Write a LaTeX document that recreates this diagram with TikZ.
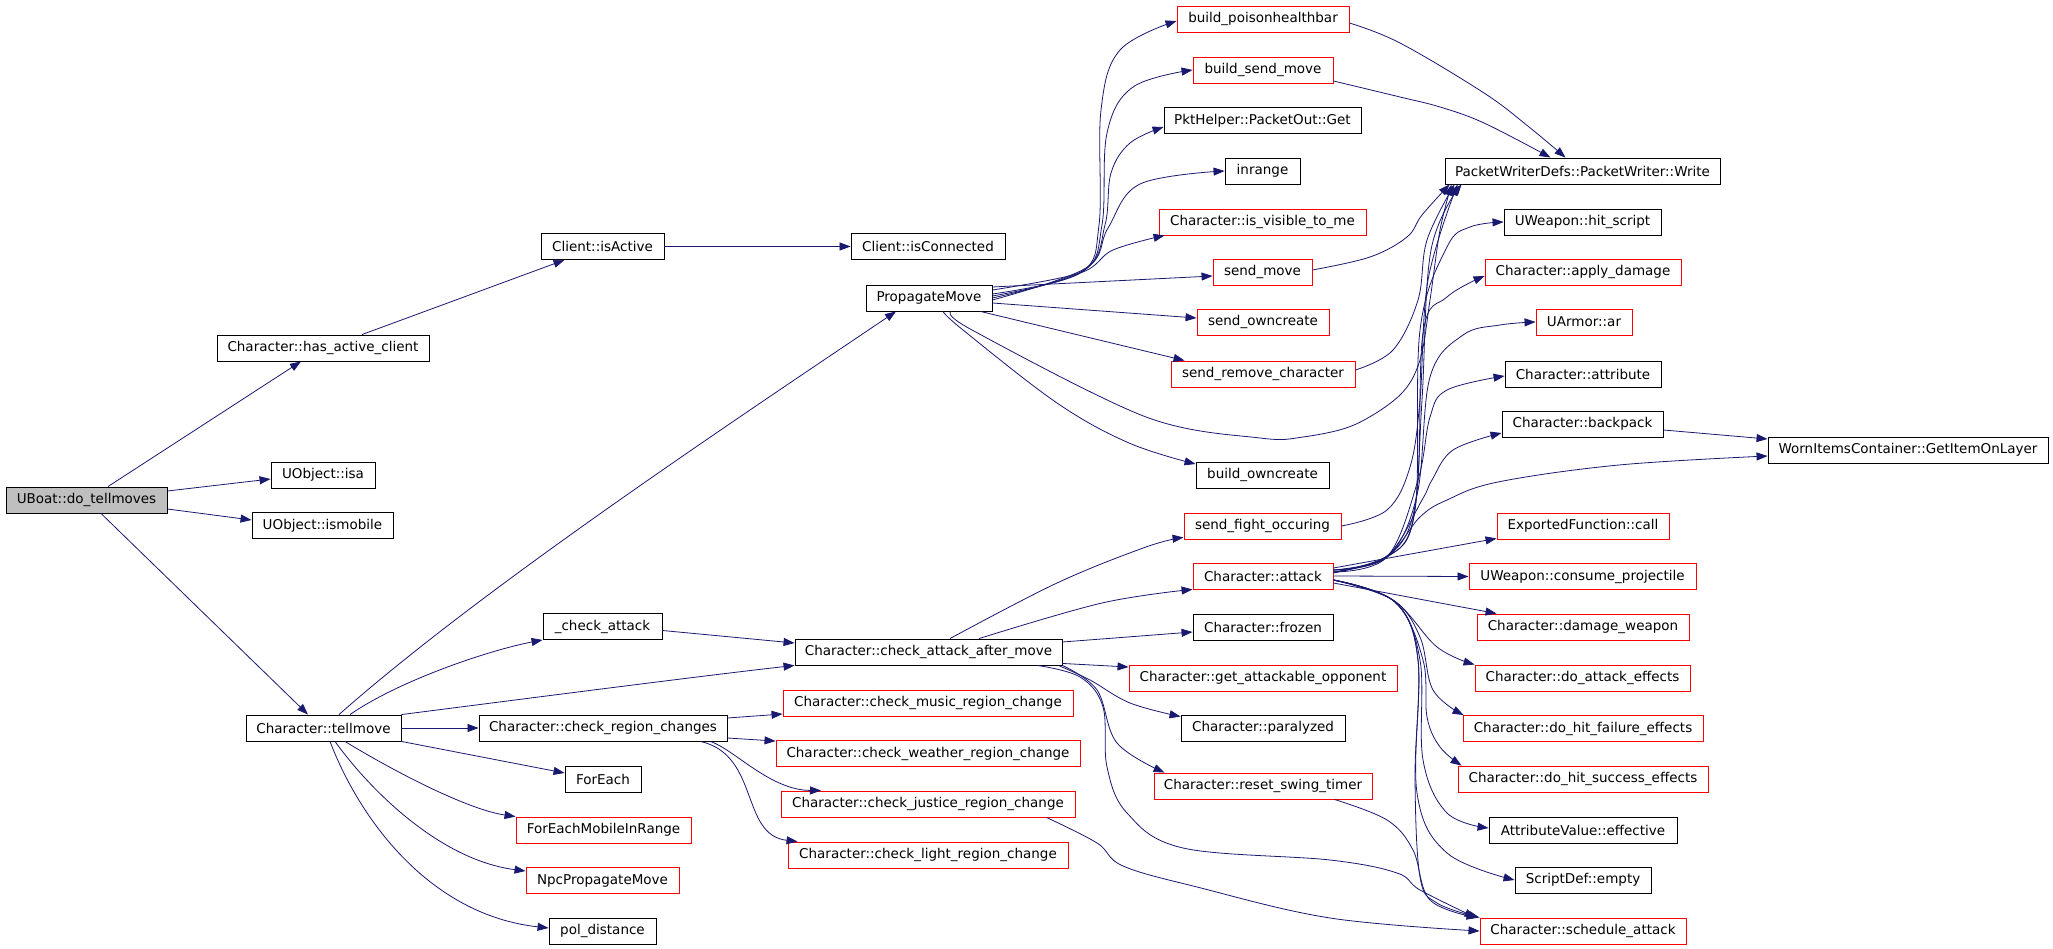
\documentclass[tikz,border=0pt]{standalone}
\usepackage{fontspec}
\setmainfont{DejaVu Sans}
\usetikzlibrary{arrows.meta,calc}
\definecolor{eb}{HTML}{191970}
\definecolor{nodered}{HTML}{FF0000}
\definecolor{rootgray}{HTML}{BFBFBF}
\begin{document}
\begin{tikzpicture}[x=1pt,y=-1pt,
 box/.style={draw=black,line width=0.9pt,rectangle,minimum height=26pt,inner sep=0pt,font=\fontsize{13.5}{15}\selectfont,text=black},
 rbox/.style={box,draw=nodered},
 e/.style={draw=eb,line width=0.8pt,-{Triangle[length=11pt,width=8pt]}},
]
\fill[white] (0,0) rectangle (2053,949);
\useasboundingbox (0,0) rectangle (2053,949);

% column 1-2
\node[box,fill=rootgray,minimum width=161pt] (uboat) at (86.5,500) {UBoat::do\_tellmoves};
\node[box,minimum width=212pt] (hac) at (323,348) {Character::has\_active\_client};
\node[box,minimum width=104pt] (isa) at (323,475) {UObject::isa};
\node[box,minimum width=141pt] (ismobile) at (322.5,525.5) {UObject::ismobile};
\node[box,minimum width=155pt] (tellmove) at (323.5,728) {Character::tellmove};
% column 3
\node[box,minimum width=123pt] (isactive) at (602.5,246.5) {Client::isActive};
\node[box,minimum width=119pt] (chkatk) at (602.5,626.5) {\_check\_attack};
\node[box,minimum width=248pt] (crc) at (603,728) {Character::check\_region\_changes};
\node[box,minimum width=76pt] (foreach) at (603,779) {ForEach};
\node[rbox,minimum width=175pt] (femir) at (603.5,830) {ForEachMobileInRange};
\node[rbox,minimum width=153pt] (npc) at (602.5,880.5) {NpcPropagateMove};
\node[box,minimum width=107pt] (pold) at (602.5,931) {pol\_distance};
% column 4
\node[box,minimum width=154pt] (isconn) at (928,246.5) {Client::isConnected};
\node[box,minimum width=126pt] (propmove) at (929,298) {PropagateMove};
\node[box,minimum width=267pt] (cam) at (928.5,652) {Character::check\_attack\_after\_move};
\node[rbox,minimum width=290pt] (music) at (928,703) {Character::check\_music\_region\_change};
\node[rbox,minimum width=304pt] (weather) at (928,753.5) {Character::check\_weather\_region\_change};
\node[rbox,minimum width=294pt] (justice) at (928,804) {Character::check\_justice\_region\_change};
\node[rbox,minimum width=280pt] (light) at (928,855) {Character::check\_light\_region\_change};
% column 5
\node[rbox,minimum width=172pt] (bph) at (1263,19) {build\_poisonhealthbar};
\node[rbox,minimum width=140pt] (bsm) at (1263,70) {build\_send\_move};
\node[box,minimum width=197pt] (pktget) at (1262.5,120.5) {PktHelper::PacketOut::Get};
\node[box,minimum width=75pt] (inrange) at (1262.5,171) {inrange};
\node[rbox,minimum width=207pt] (isvis) at (1262.5,222) {Character::is\_visible\_to\_me};
\node[rbox,minimum width=99pt] (sendmove) at (1262.5,272) {send\_move};
\node[rbox,minimum width=132pt] (sendown) at (1263,322) {send\_owncreate};
\node[rbox,minimum width=184pt] (sendrem) at (1263,374) {send\_remove\_character};
\node[box,minimum width=133pt] (buildown) at (1262.5,475) {build\_owncreate};
\node[rbox,minimum width=157pt] (sfo) at (1262.5,526) {send\_fight\_occuring};
\node[rbox,minimum width=140pt] (attack) at (1263,576) {Character::attack};
\node[box,minimum width=140pt] (frozen) at (1263,627) {Character::frozen};
\node[rbox,minimum width=268pt] (gao) at (1263,678) {Character::get\_attackable\_opponent};
\node[box,minimum width=164pt] (paralyzed) at (1263,728) {Character::paralyzed};
\node[rbox,minimum width=218pt] (rst) at (1263,786) {Character::reset\_swing\_timer};
% column 6
\node[box,minimum width=275pt] (write) at (1582.5,171) {PacketWriterDefs::PacketWriter::Write};
\node[box,minimum width=157pt] (hitscript) at (1582.5,222) {UWeapon::hit\_script};
\node[rbox,minimum width=196pt] (applydmg) at (1583,272) {Character::apply\_damage};
\node[rbox,minimum width=96pt] (uarmor) at (1584,322) {UArmor::ar};
\node[box,minimum width=156pt] (attribute) at (1583,374) {Character::attribute};
\node[box,minimum width=161pt] (backpack) at (1582.5,424) {Character::backpack};
\node[rbox,minimum width=172pt] (expcall) at (1583,526) {ExportedFunction::call};
\node[rbox,minimum width=227pt] (consume) at (1582.5,576.5) {UWeapon::consume\_projectile};
\node[rbox,minimum width=212pt] (dmgweap) at (1583,627) {Character::damage\_weapon};
\node[rbox,minimum width=215pt] (doatk) at (1582.5,678) {Character::do\_attack\_effects};
\node[rbox,minimum width=240pt] (dofail) at (1583,728.5) {Character::do\_hit\_failure\_effects};
\node[rbox,minimum width=250pt] (dosucc) at (1583,779) {Character::do\_hit\_success\_effects};
\node[box,minimum width=188pt] (effective) at (1583,830) {AttributeValue::effective};
\node[box,minimum width=136pt] (empty) at (1583,880) {ScriptDef::empty};
\node[rbox,minimum width=206pt] (schedule) at (1583,931) {Character::schedule\_attack};
% column 7
\node[box,minimum width=280pt] (getitem) at (1908,450) {WornItemsContainer::GetItemOnLayer};

% ---- edges from UBoat
\draw[e] ($(uboat.north)+(21.5,0)$) -- ($(hac.south)+(-22,0)$);
\draw[e] ($(uboat.east)+(0,-9)$) -- ($(isa.west)+(0,4)$);
\draw[e] ($(uboat.east)+(0,9)$) -- ($(ismobile.west)+(0,-5.5)$);
\draw[e] ($(uboat.south)+(14.5,0)$) -- ($(tellmove.north)+(-15.5,0)$);
\draw[e] ($(hac.north)+(39,0)$) -- ($(isactive.south)+(-38,0)$);
\draw[e] (isactive.east) -- (isconn.west);

% ---- edges from tellmove
\draw[e] ($(tellmove.north)+(15.5,0)$) .. controls (480,590) and (720,430) .. ($(propmove.south)+(-33,0)$);
\draw[e] ($(tellmove.north)+(26.5,0)$) .. controls (400,680) and (490,650) .. (chkatk.south west);
\draw[e] (tellmove.north east) .. controls (500,702) and (700,676) .. (cam.south west);
\draw[e] (tellmove.east) -- (crc.west);
\draw[e] (tellmove.south east) -- ($(foreach.west)+(0,-6)$);
\draw[e] ($(tellmove.south)+(21.5,0)$) .. controls (400,775) and (470,810) .. (femir.north west);
\draw[e] ($(tellmove.south)+(11.5,0)$) .. controls (370,790) and (440,860) .. ($(npc.west)+(0,-9.5)$);
\draw[e] ($(tellmove.south)+(6.5,0)$) .. controls (360,820) and (430,915) .. ($(pold.west)+(0,-3)$);
\draw[e] ($(chkatk.east)+(0,4)$) -- ($(cam.west)+(0,-9)$);

% ---- check_region_changes
\draw[e] ($(crc.east)+(0,-10)$) -- ($(music.west)+(0,11)$);
\draw[e] ($(crc.east)+(0,10)$) -- ($(weather.north west)+(0,1)$);
\draw[e] ($(crc.south east)+(-17,0)$) .. controls (735,750) and (770,790) .. ($(justice.north)+(-107,0)$);
\draw[e] ($(crc.south east)+(-27,0)$) .. controls (760,755) and (740,835) .. ($(light.north west)+(10,0)$);
\draw[e] plot[smooth,tension=0.6] coordinates {($(justice.south east)+(-29,0)$) (1097,843) (1123,866) (1197,887) (1330,918) (schedule.west)};

% ---- PropagateMove
\draw[e] plot[smooth,tension=0.6] coordinates {($(propmove.east)+(0,-4)$) (1080,273) (1099,225) (1101,110) (1120,50) ($(bph.west)+(0,2)$)};
\draw[e] plot[smooth,tension=0.6] coordinates {($(propmove.east)+(0,-2)$) (1082,272) (1102,225) (1107,133) (1133,87) (bsm.west)};
\draw[e] plot[smooth,tension=0.6] coordinates {(propmove.east) (1084,270) (1105,225) (1111,173) (1130,143) ($(pktget.west)+(0,6.5)$)};
\draw[e] plot[smooth,tension=0.6] coordinates {($(propmove.east)+(0,2)$) (1086,268) (1108,228) (1140,184) (inrange.west)};
\draw[e] plot[smooth,tension=0.6] coordinates {($(propmove.east)+(0,-8)$) (1080,273) (1113,250) ($(isvis.south west)+(6,0)$)};
\draw[e] ($(propmove.east)+(0,-11)$) -- ($(sendmove.west)+(0,4)$);
\draw[e] ($(propmove.east)+(0,5)$) -- ($(sendown.west)+(0,-4)$);
\draw[e] ($(propmove.south east)+(-12,0)$) -- ($(sendrem.north west)+(14,0)$);
\draw[e] plot[smooth,tension=0.6] coordinates {($(propmove.south)+(14,0)$) (963,330) (1057,403) (1129,443) ($(buildown.west)+(0,-11)$)};
\draw[e] plot[smooth,tension=0.55] coordinates {($(propmove.south)+(22,0)$) (972,330) (1146,417) (1260,438) (1303,437) (1354,425) (1400,395) (1420,360) (1430,300) (1440,230) ($(write.south west)+(7,0)$)};

% ---- into Write
\draw[e] plot[smooth,tension=0.6] coordinates {($(sendmove.east)+(0,-2)$) (1370,257) (1407,237) (1422,215) ($(write.south west)+(5,0)$)};
\draw[e] plot[smooth,tension=0.6] coordinates {($(sendrem.east)+(0,-4)$) (1393,350) (1418,300) (1427,240) ($(write.south west)+(10,0)$)};
\draw[e] plot[smooth,tension=0.6] coordinates {(sfo.east) (1387,510) (1410,467) (1420,400) (1428,280) ($(write.south west)+(13,0)$)};
\draw[e] plot[smooth,tension=0.6] coordinates {($(attack.east)+(0,-4)$) (1387,557) (1413,520) (1422,400) (1431,250) ($(write.south west)+(17,0)$)};
\draw[e] plot[smooth,tension=0.6] coordinates {($(bph.east)+(0,4)$) (1400,43) (1484,93) (1529,127) ($(write.north)+(-17,0)$)};
\draw[e] plot[smooth,tension=0.6] coordinates {($(bsm.east)+(0,11)$) (1400,97) (1440,107) (1484,123) ($(write.north)+(-32,0)$)};

% ---- Character::attack fan
\draw[e] plot[smooth,tension=0.6] coordinates {($(attack.east)+(0,-6)$) (1387,557) (1415,510) (1420,330) (1447,247) (1470,227) (hitscript.west)};
\draw[e] plot[smooth,tension=0.6] coordinates {($(attack.east)+(0,-6)$) (1387,557) (1416,500) (1423,333) (1447,297) ($(applydmg.west)+(0,4)$)};
\draw[e] plot[smooth,tension=0.6] coordinates {($(attack.east)+(0,-6)$) (1387,557) (1417,495) (1430,377) (1463,335) (1500,325) (uarmor.west)};
\draw[e] plot[smooth,tension=0.6] coordinates {($(attack.east)+(0,-4)$) (1387,557) (1418,480) (1430,417) (1447,390) ($(attribute.west)+(0,2)$)};
\draw[e] plot[smooth,tension=0.6] coordinates {($(attack.east)+(0,-4)$) (1387,556) (1422,500) (1432,480) (1453,450) ($(backpack.west)+(0,9)$)};
\draw[e] plot[smooth,tension=0.6] coordinates {($(attack.east)+(0,-3)$) (1387,556) (1420,517) (1447,500) (1498,482) (1619,465) ($(getitem.west)+(0,6)$)};
\draw[e] ($(attack.east)+(0,-8)$) -- ($(expcall.south west)+(0,-1)$);
\draw[e] (attack.east) -- (consume.west);
\draw[e] ($(attack.east)+(0,7)$) -- ($(dmgweap.north west)+(20,0)$);
\draw[e] plot[smooth,tension=0.6] coordinates {($(attack.east)+(0,4)$) (1393,600) (1437,647) (doatk.north west)};
\draw[e] plot[smooth,tension=0.6] coordinates {($(attack.east)+(0,4)$) (1393,600) (1420,637) (1433,690) ($(dofail.north west)+(1,0)$)};
\draw[e] plot[smooth,tension=0.6] coordinates {($(attack.east)+(0,4)$) (1395,602) (1423,660) (1427,717) (1440,747) ($(dosucc.north west)+(4,0)$)};
\draw[e] plot[smooth,tension=0.6] coordinates {($(attack.east)+(0,4)$) (1395,602) (1420,660) (1423,760) (1447,813) ($(effective.west)+(0,-2)$)};
\draw[e] plot[smooth,tension=0.6] coordinates {($(attack.east)+(0,4)$) (1395,602) (1418,660) (1417,793) (1447,853) (empty.west)};
\draw[e] plot[smooth,tension=0.6] coordinates {($(attack.east)+(0,4)$) (1395,602) (1418,660) (1415,777) (1420,877) (1437,903) (schedule.north west)};
\draw[e] ($(backpack.east)+(0,6)$) -- ($(getitem.west)+(0,-11)$);

% ---- check_attack_after_move
\draw[e] plot[smooth,tension=0.6] coordinates {($(cam.north)+(21.5,0)$) (1057,583) (1146,547) ($(sfo.south west)+(0,-2)$)};
\draw[e] plot[smooth,tension=0.6] coordinates {($(cam.north)+(50.5,0)$) (1102,603) (attack.south west)};
\draw[e] ($(cam.east)+(0,-10)$) -- ($(frozen.west)+(0,5)$);
\draw[e] ($(cam.south east)+(0,-2)$) -- ($(gao.west)+(0,-11)$);
\draw[e] plot[smooth,tension=0.6] coordinates {($(cam.south east)+(-4,0)$) (1090,680) (1130,703) ($(paralyzed.north west)+(0,2)$)};
\draw[e] plot[smooth,tension=0.6] coordinates {(cam.south east) (1097,690) (1117,743) ($(rst.north west)+(11,0)$)};
\draw[e] plot[smooth,tension=0.6] coordinates {($(cam.south east)+(-25,0)$) (1080,677) (1103,707) (1107,767) (1127,813) (1183,848) (1330,860) (1397,873) (1420,890) ($(schedule.north west)+(-4,0)$)};
\draw[e] plot[smooth,tension=0.6] coordinates {($(rst.south east)+(-38,0)$) (1387,820) (1413,850) (1430,900) ($(schedule.north west)+(-2,0)$)};
\end{tikzpicture}
\end{document}
